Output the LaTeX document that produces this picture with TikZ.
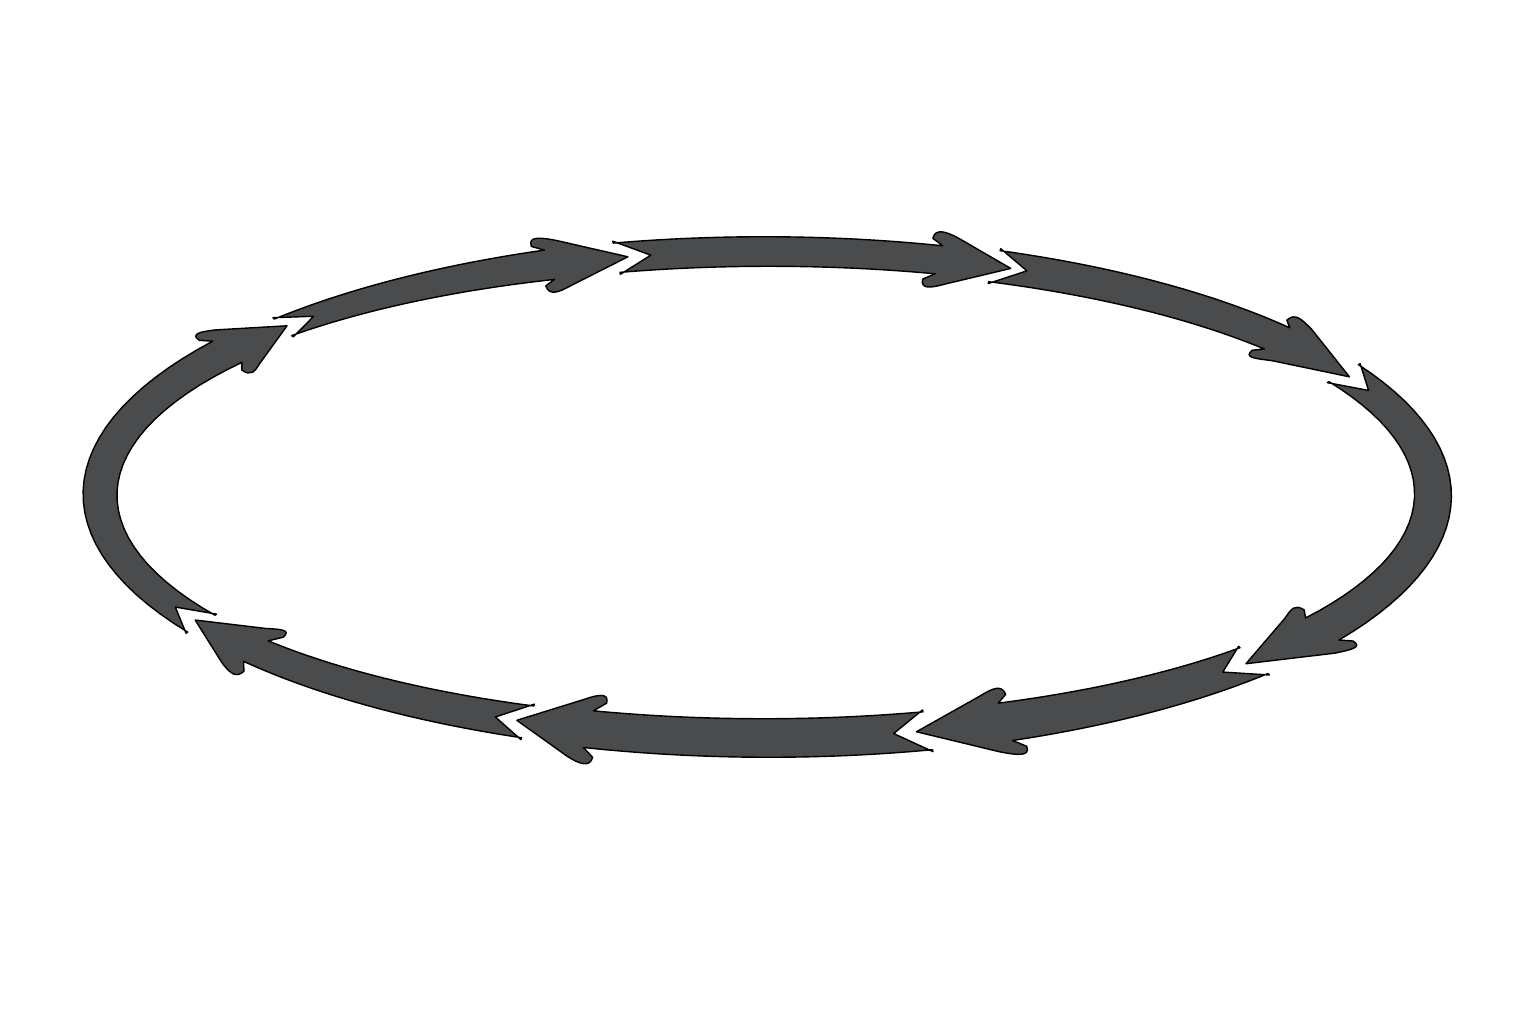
\documentclass[tikz,border=0pt]{standalone}
\usepackage{tikz}
\definecolor{arrowc}{RGB}{74,75,76}
\newcommand{\ellX}{7.665}
\newcommand{\ellY}{5.2925}
\newcommand{\ellA}{6.665}
\newcommand{\ellB}{2.4325}

\begin{document}
\begin{tikzpicture}
\useasboundingbox (0,0) rectangle (15.36,10.24);
% eight arrows round one ellipse, clockwise
% tail angle / head base angle / tip angle / tail width / head width / barb half-width / notch depth
\foreach \ta/\tb/\tc/\wa/\wb/\hw/\nd in {136.5/109/102/.24/.31/.29/3.7,
  103/75/68.5/.30/.29/.29/3, 70/40/29/.33/.33/.31/3,
  30/-33.5/-44/.34/.40/.37/4.6, -43/-69/-77/.38/.40/.36/3.8,
  -76/-105.5/-112/.39/.38/.36/3, -111/-140/-149/.34/.32/.34/3,
  212/144/136/.32/.36/.34/4.5}{
  % tail corners and notch
  \coordinate (tailA) at ({\ellX+(\ellA+\wa/2+.02)*cos(\ta)},{\ellY+(\ellB+\wa/2+.02)*sin(\ta)});
  \coordinate (tailB) at ({\ellX+(\ellA-\wa/2-.02)*cos(\ta)},{\ellY+(\ellB-\wa/2-.02)*sin(\ta)});
  \coordinate (notch) at ({\ellX+\ellA*cos(\ta-\nd)},{\ellY+\ellB*sin(\ta-\nd)});
  % head: rounded barbs and tip
  \coordinate (tip) at ({\ellX+\ellA*cos(\tc)},{\ellY+\ellB*sin(\tc)});
  \coordinate (backA) at ({\ellX+(\ellA+\hw-.08)*cos(\tb+1)},{\ellY+(\ellB+\hw-.08)*sin(\tb+1)});
  \coordinate (ctlA) at ({\ellX+(\ellA+\hw+.03)*cos(\tb+1)},{\ellY+(\ellB+\hw+.03)*sin(\tb+1)});
  \coordinate (barbA) at ({\ellX+(\ellA+\hw)*cos(\tb)},{\ellY+(\ellB+\hw)*sin(\tb)});
  \coordinate (edgeA) at ({\ellX+(\ellA+.82*\hw)*cos(\tb+.18*(\tc-\tb))},{\ellY+(\ellB+.82*\hw)*sin(\tb+.18*(\tc-\tb))});
  \coordinate (backB) at ({\ellX+(\ellA-\hw+.08)*cos(\tb+1)},{\ellY+(\ellB-\hw+.08)*sin(\tb+1)});
  \coordinate (ctlB) at ({\ellX+(\ellA-\hw-.03)*cos(\tb+1)},{\ellY+(\ellB-\hw-.03)*sin(\tb+1)});
  \coordinate (barbB) at ({\ellX+(\ellA-\hw)*cos(\tb)},{\ellY+(\ellB-\hw)*sin(\tb)});
  \coordinate (edgeB) at ({\ellX+(\ellA-.82*\hw)*cos(\tb+.18*(\tc-\tb))},{\ellY+(\ellB-.82*\hw)*sin(\tb+.18*(\tc-\tb))});
  \filldraw[fill=arrowc,draw=black,line width=.4pt,line join=round]
    (tailA)
    -- plot[domain=\ta:\tb,samples=30]
       ({\ellX+(\ellA+(\wa+(\wb-\wa)*(\x-\ta)/(\tb-\ta))/2)*cos(\x)},
        {\ellY+(\ellB+(\wa+(\wb-\wa)*(\x-\ta)/(\tb-\ta))/2)*sin(\x)})
    -- (backA) .. controls (ctlA) and (barbA) .. (edgeA)
    -- (tip)
    -- (edgeB) .. controls (barbB) and (ctlB) .. (backB)
    -- plot[domain=\tb:\ta,samples=30]
       ({\ellX+(\ellA-(\wa+(\wb-\wa)*(\x-\ta)/(\tb-\ta))/2)*cos(\x)},
        {\ellY+(\ellB-(\wa+(\wb-\wa)*(\x-\ta)/(\tb-\ta))/2)*sin(\x)})
    -- (tailB) -- (notch) -- cycle;
}
\end{tikzpicture}
\end{document}
